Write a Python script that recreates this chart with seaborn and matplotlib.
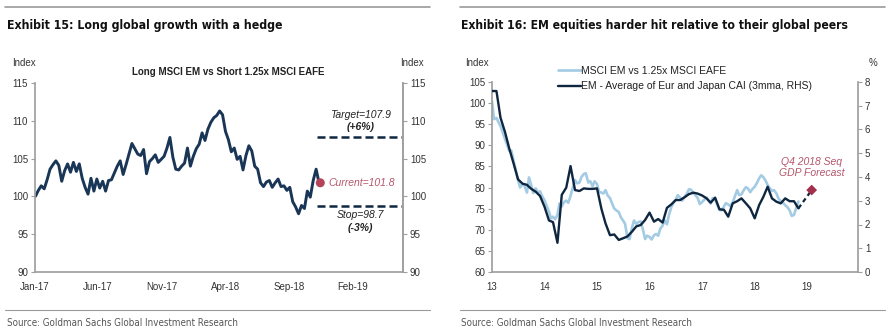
import matplotlib
matplotlib.use("Agg")
import matplotlib.pyplot as plt
import matplotlib.dates as mdates
from matplotlib import font_manager
from matplotlib.font_manager import FontProperties
from matplotlib.lines import Line2D
import numpy as np
import pandas as pd
import seaborn as sns

# ---------------- data ----------------
# Exhibit 15: Long MSCI EM vs Short 1.25x MSCI EAFE (weekly, from Jan-2017)
ex15_start = "2017-01-02"
ex15_values = [
    100.0, 100.8, 101.4, 101.0, 102.2, 103.6, 104.2, 104.7, 104.1, 102.0,
    103.4, 104.3, 103.2, 104.5, 103.3, 104.3, 102.4, 101.2, 100.3, 102.4,
    100.7, 102.3, 101.1, 102.0, 100.7, 102.1, 102.2, 103.1, 104.0, 104.7,
    102.9, 104.2, 105.6, 107.0, 106.3, 105.6, 105.4, 106.2, 103.0, 104.6,
    105.0, 105.5, 104.5, 104.9, 105.3, 106.4, 107.8, 105.2, 103.6, 103.5,
    104.0, 104.4, 106.4, 104.0, 105.3, 106.3, 106.9, 108.4, 107.4, 108.9,
    109.8, 110.4, 110.7, 111.3, 110.8, 108.6, 107.5, 105.9, 106.4, 104.9,
    105.3, 103.5, 105.4, 106.7, 106.0, 104.0, 103.6, 101.8, 101.3, 101.9,
    102.1, 101.2, 101.8, 102.3, 101.3, 101.4, 100.8, 101.2, 99.3, 98.6,
    97.7, 98.8, 98.4, 100.7, 99.9, 102.1, 103.6, 101.8,
]
ex15_current = 101.8
ex15_target = 107.9
ex15_stop = 98.7
ex15_level_start = "2018-11-07"
ex15_xticks = ["2017-01-01", "2017-06-01", "2017-11-01", "2018-04-01", "2018-09-01", "2019-02-01"]

# Exhibit 16: MSCI EM vs 1.25x MSCI EAFE (semi-monthly, LHS)
ex16_msci_start = "2013-01-01"
ex16_msci = [
    100.5, 96.2, 96.5, 95.5, 94.6, 93.2, 91.5, 90.2, 88.7, 88.8,
    86.2, 84.2, 81.8, 80.0, 80.8, 80.4, 78.8, 82.4, 80.5, 78.7,
    79.8, 78.9, 79.1, 78.0, 77.0, 75.8, 74.3, 72.7, 73.1, 72.5,
    73.5, 76.2, 75.5, 76.5, 76.9, 76.4, 78.0, 79.8, 81.8, 81.0,
    81.2, 82.5, 83.2, 83.4, 81.2, 81.5, 80.3, 81.5, 80.8, 79.0,
    78.8, 78.6, 79.4, 78.2, 77.5, 76.3, 75.0, 74.6, 74.2, 73.0,
    72.2, 71.4, 68.0, 67.8, 70.5, 72.2, 71.4, 71.8, 72.0, 70.2,
    67.8, 68.6, 68.3, 67.7, 68.7, 69.0, 68.6, 70.2, 71.0, 72.2,
    71.3, 73.5, 75.4, 76.4, 77.1, 78.2, 77.6, 76.9, 77.8, 78.5,
    79.6, 79.5, 78.7, 78.2, 77.5, 76.1, 76.6, 77.1, 77.6, 76.8,
    76.2, 77.5, 77.2, 76.0, 74.7, 74.6, 75.5, 76.3, 76.0, 75.6,
    76.5, 77.8, 79.4, 78.2, 78.4, 79.3, 80.1, 79.8, 78.9, 79.6,
    80.2, 81.0, 82.2, 82.9, 82.5, 81.8, 80.6, 79.9, 79.2, 79.4,
    78.6, 77.4, 76.8, 76.5, 75.8, 75.4, 74.6, 73.3, 73.5, 75.0,
    76.7,
]
# EM - Average of Eur and Japan CAI (3mma, RHS), monthly
ex16_cai_start = "2013-01-01"
ex16_cai = [
    7.62, 7.62, 6.50, 5.90, 5.20, 4.55, 3.90, 3.72, 3.67, 3.50,
    3.38, 3.20, 2.75, 2.17, 2.10, 1.23, 3.25, 3.55, 4.46, 3.45,
    3.41, 3.52, 3.50, 3.50, 3.52, 2.65, 2.05, 1.55, 1.58, 1.35,
    1.42, 1.50, 1.70, 1.92, 1.98, 2.19, 2.50, 2.12, 2.23, 2.08,
    2.70, 2.85, 3.03, 3.03, 3.15, 3.28, 3.34, 3.30, 3.22, 3.10,
    2.92, 3.13, 2.64, 2.62, 2.33, 2.89, 2.98, 3.10, 2.89, 2.68,
    2.26, 2.82, 3.15, 3.59, 3.10, 2.96, 2.89, 3.10, 2.98, 2.98,
    2.68,
]
ex16_forecast_date = "2019-02-01"
ex16_forecast = 3.45
ex16_years = [2013, 2014, 2015, 2016, 2017, 2018, 2019]

# ---------------- style ----------------
sns.set_theme(style="white")
installed = {f.name for f in font_manager.fontManager.ttflist}
base_font = "Liberation Sans" if "Liberation Sans" in installed else "DejaVu Sans"
plt.rcParams["font.family"] = [base_font, "DejaVu Sans"]


def _weight(f):
    w = f.weight
    if isinstance(w, str):
        w = font_manager.weight_dict.get(w, 400)
    return w


def condensed_props(bold):
    best = None
    for f in font_manager.fontManager.ttflist:
        cond = ("Narrow" in f.name or "Condensed" in f.name
                or f.stretch in ("condensed", "semi-condensed", "extra-condensed", 300, 400, 500))
        if not cond or f.style != "normal":
            continue
        w = _weight(f)
        score = abs(w - (700 if bold else 400))
        if "Liberation" in f.name:
            score -= 50
        if best is None or score < best[0]:
            best = (score, f.fname)
    if best is not None:
        return FontProperties(fname=best[1])
    return FontProperties(family=base_font, weight="bold" if bold else "normal")


title_fp = condensed_props(True)
source_fp = condensed_props(False)

NAVY = "#1a3657"
DARK = "#0f2640"
LIGHT = "#a3cbe3"
RED = "#b3445a"
PINK = "#b5566c"
SPINE = "#a0a0a0"
TXT = "#333333"

W, H = 890, 334
fig = plt.figure(figsize=(W / 100, H / 100), dpi=100)


def fx(px):
    return px / W


def fy(py):
    return 1 - py / H


# header / footer rules
for x0, x1 in [(5, 430), (460, 885)]:
    fig.add_artist(Line2D([fx(x0), fx(x1)], [fy(7), fy(7)], color="#9a9a9a", lw=1.2))
    fig.add_artist(Line2D([fx(x0), fx(x1)], [fy(310), fy(310)], color="#9a9a9a", lw=0.8))

fitted = []


def fit_text(x, y, s, fp, size, width_px, color):
    p = fp.copy()
    p.set_size(size)
    t = fig.text(fx(x), fy(y), s, fontproperties=p, va="center", color=color)
    fitted.append((t, width_px))
    return t


fit_text(7, 25, "Exhibit 15: Long global growth with a hedge", title_fp, 11.5, 276, "#111111")
fit_text(461, 25, "Exhibit 16: EM equities harder hit relative to their global peers",
         title_fp, 11.5, 391, "#111111")
fit_text(7, 323, "Source: Goldman Sachs Global Investment Research", source_fp, 7.5, 228, "#555555")
fit_text(461, 323, "Source: Goldman Sachs Global Investment Research", source_fp, 7.5, 228, "#555555")


def style_axis(ax, left=True, right=False):
    for s in ["top", "right", "left", "bottom"]:
        ax.spines[s].set_visible(False)
    ax.spines["bottom"].set_visible(True)
    ax.spines["bottom"].set_color(SPINE)
    if left:
        ax.spines["left"].set_visible(True)
        ax.spines["left"].set_color(SPINE)
    if right:
        ax.spines["right"].set_visible(True)
        ax.spines["right"].set_color(SPINE)
    ax.tick_params(axis="both", which="both", direction="out", length=3, width=0.8,
                   color=SPINE, labelsize=7, labelcolor=TXT, pad=2)
    ax.grid(False)


# ---------------- Exhibit 15 ----------------
ax1 = fig.add_axes([fx(35), fy(272), fx(403 - 35), (272 - 83) / H])
d15 = pd.DataFrame({"date": pd.date_range(ex15_start, periods=len(ex15_values), freq="W-MON"),
                    "value": ex15_values})
sns.lineplot(data=d15, x="date", y="value", ax=ax1, color=NAVY, lw=2.1)
ax1.set_xlim(pd.Timestamp("2017-01-01"), pd.Timestamp("2019-06-01"))
ax1.set_ylim(90, 115)
ax1.set_yticks(np.arange(90, 116, 5))
ax1.set_xticks([pd.Timestamp(t) for t in ex15_xticks])
ax1.xaxis.set_major_formatter(mdates.DateFormatter("%b-%y"))
ax1.set_xlabel("")
ax1.set_ylabel("")
style_axis(ax1, left=True, right=True)
ax1.tick_params(axis="x", pad=4)
ax1r = ax1.twinx()
ax1r.set_ylim(90, 115)
ax1r.set_yticks(np.arange(90, 116, 5))
style_axis(ax1r, left=False, right=True)
ax1r.spines["bottom"].set_visible(False)

lvl_x0 = pd.Timestamp(ex15_level_start)
lvl_x1 = pd.Timestamp("2019-06-01")
for lvl in (ex15_target, ex15_stop):
    ax1.plot([lvl_x0, lvl_x1], [lvl, lvl], color=DARK, lw=1.8, ls=(0, (3.2, 1.6)))
last_date = d15["date"].iloc[-1] + pd.Timedelta(days=3)
ax1.scatter([last_date], [ex15_current], s=42, color=RED, zorder=5, edgecolor="none")
ax1.text(last_date + pd.Timedelta(days=20), ex15_current, f"Current={ex15_current}",
         color=PINK, fontsize=7.5, style="italic", va="center", ha="left")
lab_x = pd.Timestamp("2019-02-20")
ax1.text(lab_x, 110.8, f"Target={ex15_target}", fontsize=7.5, style="italic", ha="center",
         va="center", color="#222222")
ax1.text(lab_x, 109.2, "(+6%)", fontsize=7.5, style="italic", fontweight="bold",
         ha="center", va="center", color="#222222")
ax1.text(lab_x, 97.5, f"Stop={ex15_stop}", fontsize=7.5, style="italic", ha="center",
         va="center", color="#222222")
ax1.text(lab_x, 95.8, "(-3%)", fontsize=7.5, style="italic", fontweight="bold",
         ha="center", va="center", color="#222222")
fig.text(fx(228), fy(72), "Long MSCI EM vs Short 1.25x MSCI EAFE", fontsize=7,
         fontweight="bold", ha="center", va="center", color="#222222")
fig.text(fx(12), fy(63), "Index", fontsize=7, ha="left", va="center", color=TXT)
fig.text(fx(400), fy(63), "Index", fontsize=7, ha="left", va="center", color=TXT)

# ---------------- Exhibit 16 ----------------
ax2 = fig.add_axes([fx(492), fy(272), fx(858 - 492), (272 - 82) / H])
d16a = pd.DataFrame({"date": pd.date_range(ex16_msci_start, periods=len(ex16_msci), freq="SMS"),
                     "value": ex16_msci})
sns.lineplot(data=d16a, x="date", y="value", ax=ax2, color=LIGHT, lw=1.9,
             label="MSCI EM vs 1.25x MSCI EAFE", legend=False)
ax2.set_xlim(pd.Timestamp("2013-01-01"), pd.Timestamp("2019-12-20"))
ax2.set_ylim(60, 105)
ax2.set_yticks(np.arange(60, 106, 5))
ax2.set_xticks([pd.Timestamp(f"{y}-01-01") for y in ex16_years])
ax2.xaxis.set_major_formatter(mdates.DateFormatter("%y"))
ax2.set_xlabel("")
ax2.set_ylabel("")
style_axis(ax2, left=True, right=False)
ax2.tick_params(axis="x", pad=4)

ax2r = ax2.twinx()
d16b = pd.DataFrame({"date": pd.date_range(ex16_cai_start, periods=len(ex16_cai), freq="MS"),
                     "value": ex16_cai})
sns.lineplot(data=d16b, x="date", y="value", ax=ax2r, color=DARK, lw=1.7,
             label="EM - Average of Eur and Japan CAI (3mma, RHS)", legend=False)
ax2r.set_ylim(0, 8)
ax2r.set_yticks(np.arange(0, 9, 1))
ax2r.set_ylabel("")
style_axis(ax2r, left=False, right=True)
ax2r.spines["bottom"].set_visible(False)
fc_date = pd.Timestamp(ex16_forecast_date)
ax2r.plot([d16b["date"].iloc[-1], fc_date], [ex16_cai[-1], ex16_forecast], color=DARK,
          lw=1.6, ls=(0, (2, 1.5)))
ax2r.scatter([fc_date], [ex16_forecast], marker="D", s=30, color="#a3304c", zorder=5,
             edgecolor="none")
ax2r.text(fc_date, 4.62, "Q4 2018 Seq", fontsize=7.5, style="italic", color=PINK,
          ha="center", va="center")
ax2r.text(fc_date, 4.15, "GDP Forecast", fontsize=7.5, style="italic", color=PINK,
          ha="center", va="center")

h1, l1 = ax2.get_legend_handles_labels()
h2, l2 = ax2r.get_legend_handles_labels()
leg = ax2r.legend(h1 + h2, l1 + l2, loc="upper left", bbox_to_anchor=(0.17, 1.108),
                  frameon=False, fontsize=7.5, handlelength=2.2, handletextpad=0.0,
                  labelspacing=0.55, borderaxespad=0)
for t in leg.get_texts():
    t.set_color("#222222")
fig.text(fx(465), fy(63), "Index", fontsize=7, ha="left", va="center", color=TXT)
fig.text(fx(869), fy(63), "%", fontsize=7, ha="left", va="center", color=TXT)

# fit header/footer texts to the widths they have in the reference
fig.canvas.draw()
renderer = fig.canvas.get_renderer()
for t, wpx in fitted:
    cur = t.get_window_extent(renderer).width
    if cur > 0:
        p = t.get_fontproperties()
        p.set_size(p.get_size() * wpx / cur)
        t.set_fontproperties(p)

fig.savefig("out.png", dpi=100)
